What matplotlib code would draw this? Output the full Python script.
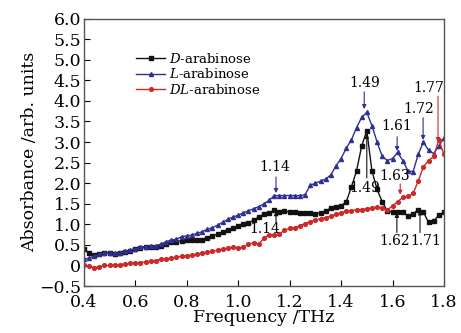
import numpy as np
import matplotlib
matplotlib.use("Agg")
import matplotlib.pyplot as plt

plt.rcParams['font.family'] = 'DejaVu Serif'
plt.rcParams['mathtext.fontset'] = 'dejavuserif'

# frequency grid (THz), one point every 0.02
freq = np.round(np.arange(0.40, 1.801, 0.02), 2)

# D-arabinose
d_abs = [0.40, 0.30, 0.25, 0.27, 0.30, 0.30, 0.29, 0.30, 0.33, 0.36,
         0.40, 0.42, 0.44, 0.46, 0.46, 0.48, 0.52, 0.56, 0.58, 0.60,
         0.62, 0.62, 0.61, 0.63, 0.68, 0.72, 0.76, 0.82, 0.86, 0.90,
         0.95, 1.00, 1.04, 1.10, 1.18, 1.25, 1.28, 1.34, 1.30, 1.32,
         1.30, 1.31, 1.27, 1.27, 1.28, 1.26, 1.28, 1.32, 1.40, 1.42,
         1.45, 1.55, 1.90, 2.30, 2.90, 3.28, 2.30, 1.85, 1.55, 1.32,
         1.30, 1.30, 1.30, 1.20, 1.25, 1.36, 1.30, 1.05, 1.08, 1.22,
         1.30]

# L-arabinose
l_abs = [0.15, 0.18, 0.22, 0.27, 0.30, 0.30, 0.30, 0.30, 0.34, 0.38,
         0.40, 0.44, 0.46, 0.48, 0.48, 0.52, 0.58, 0.62, 0.64, 0.70,
         0.72, 0.74, 0.78, 0.82, 0.88, 0.92, 0.98, 1.05, 1.12, 1.18,
         1.22, 1.28, 1.33, 1.38, 1.43, 1.50, 1.58, 1.70, 1.70, 1.70,
         1.70, 1.70, 1.70, 1.72, 1.95, 2.00, 2.05, 2.10, 2.20, 2.42,
         2.60, 2.85, 3.05, 3.35, 3.60, 3.72, 3.40, 3.00, 2.65, 2.55,
         2.60, 2.75, 2.55, 2.30, 2.28, 2.70, 3.00, 2.80, 2.72, 2.90,
         3.10]

# DL-arabinose
dl_abs = [0.00, -0.02, -0.05, -0.03, 0.00, 0.00, 0.01, 0.02, 0.04, 0.05,
          0.06, 0.07, 0.09, 0.10, 0.12, 0.15, 0.16, 0.18, 0.20, 0.22,
          0.24, 0.25, 0.27, 0.30, 0.32, 0.34, 0.37, 0.40, 0.42, 0.45,
          0.43, 0.44, 0.52, 0.55, 0.52, 0.66, 0.75, 0.74, 0.76, 0.86,
          0.90, 0.92, 0.96, 1.02, 1.06, 1.10, 1.14, 1.16, 1.20, 1.24,
          1.28, 1.32, 1.33, 1.36, 1.36, 1.38, 1.40, 1.42, 1.40, 1.35,
          1.45, 1.55, 1.66, 1.68, 1.75, 2.05, 2.40, 2.55, 2.65, 3.05,
          2.70]

black = '#111111'
blue = '#2e3192'
red = '#cc2a2a'

fig = plt.figure(figsize=(4.61, 3.33), dpi=100)
ax = fig.add_axes([0.182, 0.141, 0.781, 0.803])

ax.plot(freq, d_abs, color=black, lw=1.0, marker='s', ms=2.5, label='$D$-arabinose')
ax.plot(freq, l_abs, color=blue, lw=1.0, marker='^', ms=2.9, label='$L$-arabinose')
ax.plot(freq, dl_abs, color=red, lw=1.0, marker='o', ms=2.7, label='$DL$-arabinose')

# peak labels: (text, text x, text y, arrow tail, arrow tip, colour)
peaks = [
    ('1.14', 1.143, 2.40, (1.147, 2.15), (1.147, 1.76), blue),
    ('1.49', 1.490, 4.44, (1.490, 4.22), (1.490, 3.80), blue),
    ('1.61', 1.618, 3.40, (1.618, 3.13), (1.618, 2.78), blue),
    ('1.72', 1.700, 3.81, (1.719, 3.59), (1.719, 3.05), blue),
    ('1.77', 1.742, 4.32, (1.777, 4.12), (1.777, 3.00), red),
    ('1.63', 1.610, 2.18, (1.630, 1.98), (1.630, 1.72), red),
    ('1.14', 1.104, 0.89, (1.147, 1.06), (1.147, 1.32), black),
    ('1.49', 1.493, 1.89, (1.500, 2.13), (1.500, 3.20), black),
    ('1.62', 1.610, 0.60, (1.617, 0.80), (1.617, 1.28), black),
    ('1.71', 1.729, 0.60, (1.707, 0.80), (1.707, 1.34), black),
]
for txt, tx, ty, tail, tip, c in peaks:
    ax.text(tx, ty, txt, ha='center', va='center', fontsize=10)
    ax.annotate('', xy=tip, xytext=tail,
                arrowprops=dict(arrowstyle='-|>', color=c, lw=0.8,
                                mutation_scale=6, shrinkA=0, shrinkB=0))

ax.set_xlim(0.4, 1.8)
ax.set_ylim(-0.5, 6.0)
ax.set_xticks(np.arange(0.4, 1.81, 0.2))
ax.set_xticklabels(['0.4', '0.6', '0.8', '1.0', '1.2', '1.4', '1.6', '1.8'])
yt = np.arange(-0.5, 6.01, 0.5)
ax.set_yticks(yt)
ax.set_yticklabels(['\u22120.5', '0'] + ['%.1f' % v for v in yt[2:]])
ax.tick_params(direction='in', length=4, width=0.8, labelsize=12.5)
ax.tick_params(axis='x', pad=5.5)
ax.tick_params(axis='y', pad=2)
for s in ax.spines.values():
    s.set_color('#555555')
    s.set_linewidth(1.0)

ax.set_xlabel('Frequency /THz', fontsize=12.5, labelpad=-1)
ax.set_ylabel('Absorbance /arb. units', fontsize=12.5, labelpad=1)

ax.legend(loc='upper left', bbox_to_anchor=(0.12, 0.91), frameon=False,
          fontsize=9.5, handlelength=2.2, handletextpad=0.3, labelspacing=0.1,
          borderpad=0.2)

fig.savefig('out.png', dpi=100)
